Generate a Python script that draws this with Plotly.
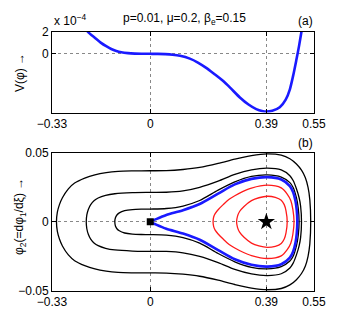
import plotly.graph_objects as go

# ---------------- data ----------------
# Panel (a): potential V(phi), values in units of 1e-4
PHI_A = [-0.225, -0.209, -0.185, -0.164, -0.148, -0.131, -0.114, -0.097, -0.075, -0.052, -0.025, 0.0,
         0.025, 0.05, 0.075, 0.10, 0.133, 0.16, 0.188, 0.215, 0.245, 0.27, 0.301, 0.33, 0.356, 0.375,
         0.39, 0.41, 0.435, 0.455, 0.469, 0.48, 0.491, 0.50, 0.508, 0.52]
V_E4 = [2.8, 2.0, 1.45, 0.98, 0.70, 0.44, 0.26, 0.14, 0.06, 0.02, 0.005, 0.0,
        -0.005, -0.03, -0.08, -0.18, -0.44, -0.8, -1.29, -1.85, -2.5, -3.15, -4.0, -4.65, -5.07, -5.25,
        -5.3, -5.22, -4.9, -4.2, -3.25, -2.0, -0.53, 0.75, 2.05, 4.0]

# Panel (b): upper halves of the phase-plane curves (phi, phi2); curves are symmetric in phi2
OUTER_PHI = [-0.315, -0.312, -0.305, -0.295, -0.275, -0.254, -0.22, -0.186, -0.148, -0.108, -0.06,
             0.0, 0.054, 0.110, 0.166, 0.228, 0.284, 0.340, 0.393, 0.440, 0.469, 0.491, 0.508,
             0.521, 0.530, 0.536, 0.539]
OUTER_PHI2 = [0, 0.0070, 0.0125, 0.0175, 0.0240, 0.0282, 0.0318, 0.0342, 0.0358, 0.0367, 0.0370,
              0.0371, 0.0372, 0.0380, 0.0395, 0.0424, 0.0455, 0.0481, 0.0493, 0.0484, 0.0458, 0.0420, 0.0375,
              0.0320, 0.0250, 0.0160, 0]
MID_PHI = [-0.215, -0.213, -0.208, -0.200, -0.188, -0.175, -0.150, -0.119, -0.06, 0.0, 0.054, 0.110,
           0.166, 0.228, 0.284, 0.340, 0.393, 0.440, 0.469, 0.480, 0.491, 0.500, 0.505, 0.508]
MID_PHI2 = [0, 0.0050, 0.0090, 0.0125, 0.0155, 0.0173, 0.0192, 0.0204, 0.0212, 0.0214, 0.0215, 0.0225,
            0.0251, 0.0296, 0.0345, 0.0378, 0.0390, 0.0377, 0.0335, 0.0300, 0.0240, 0.0175, 0.0115, 0]
INNER_PHI = [-0.119, -0.117, -0.112, -0.104, -0.086, -0.06, -0.03, 0.0, 0.054, 0.110, 0.166, 0.228,
             0.284, 0.340, 0.393, 0.440, 0.469, 0.480, 0.491, 0.497, 0.500]
INNER_PHI2 = [0, 0.0030, 0.0050, 0.0065, 0.0081, 0.0089, 0.0092, 0.0093, 0.0097, 0.0115, 0.0155, 0.0230,
              0.0290, 0.0330, 0.0341, 0.0325, 0.0285, 0.0250, 0.0175, 0.0100, 0]
SEP_PHI = [0.0, 0.02, 0.054, 0.110, 0.166, 0.228, 0.284, 0.340, 0.393, 0.440, 0.469, 0.480, 0.488, 0.492, 0.494]
SEP_PHI2 = [0, 0.0020, 0.0050, 0.0085, 0.0130, 0.0205, 0.0272, 0.0312, 0.0325, 0.0308, 0.0260, 0.0215,
            0.0150, 0.0085, 0]
RED1_PHI = [0.211, 0.213, 0.218, 0.228, 0.245, 0.265, 0.284, 0.310, 0.340, 0.393, 0.440, 0.460, 0.472, 0.479, 0.483]
RED1_PHI2 = [0, 0.0035, 0.0060, 0.0088, 0.0125, 0.0164, 0.0190, 0.0219, 0.0245, 0.0266, 0.0247, 0.0202,
             0.0155, 0.0090, 0]
RED2_PHI = [0.290, 0.293, 0.300, 0.315, 0.340, 0.365, 0.393, 0.420, 0.440, 0.450, 0.456, 0.460]
RED2_PHI2 = [0, 0.0040, 0.0075, 0.0112, 0.0154, 0.0175, 0.0186, 0.0178, 0.0157, 0.0125, 0.0080, 0]

FIXED_SADDLE = [0.0, 0.0]
FIXED_CENTER = [0.39, 0.0]

X_TICKS = [-0.33, 0.0, 0.39, 0.55]
X_TICKTEXT = ["\u22120.33", "0", "0.39", "0.55"]
YA_TICKS = [0.0, 2.0]
YA_TICKTEXT = ["0", "2"]
YB_TICKS = [-0.05, 0.0, 0.05]
YB_TICKTEXT = ["\u22120.05", "0", "0.05"]


def closed(phi, phi2):
    xs = list(phi) + list(phi[::-1])[1:]
    ys = list(phi2) + [-v for v in phi2[::-1]][1:]
    k = len(phi) // 2
    return xs[k:] + xs[1:k + 1], ys[k:] + ys[1:k + 1]


def open_loop(phi, phi2):
    xs = list(phi) + list(phi[::-1])[1:]
    ys = list(phi2) + [-v for v in phi2[::-1]][1:]
    return xs, ys


W, H = 338, 318
X0, X1 = 44, 306
BLUE = "#1a1aff"
RED = "#ff1a1a"
fig = go.Figure()

# panel (a)
fig.add_trace(go.Scatter(x=PHI_A, y=V_E4, mode="lines",
                         line=dict(color=BLUE, width=2.6, shape="spline", smoothing=0.7),
                         xaxis="x", yaxis="y", showlegend=False))

# panel (b)
for ph, p2, col in [(OUTER_PHI, OUTER_PHI2, "black"), (MID_PHI, MID_PHI2, "black"),
                    (INNER_PHI, INNER_PHI2, "black"), (RED1_PHI, RED1_PHI2, RED),
                    (RED2_PHI, RED2_PHI2, RED)]:
    xs, ys = closed(ph, p2)
    fig.add_trace(go.Scatter(x=xs, y=ys, mode="lines",
                             line=dict(color=col, width=1.3, shape="spline", smoothing=0.8),
                             xaxis="x2", yaxis="y2", showlegend=False))
xs, ys = open_loop(SEP_PHI, SEP_PHI2)
fig.add_trace(go.Scatter(x=xs, y=ys, mode="lines",
                         line=dict(color=BLUE, width=2.6, shape="spline", smoothing=0.8),
                         xaxis="x2", yaxis="y2", showlegend=False))
fig.add_trace(go.Scatter(x=[FIXED_SADDLE[0]], y=[FIXED_SADDLE[1]], mode="markers",
                         marker=dict(symbol="square", size=7, color="black"),
                         xaxis="x2", yaxis="y2", showlegend=False))
fig.add_trace(go.Scatter(x=[FIXED_CENTER[0]], y=[FIXED_CENTER[1]], mode="markers",
                         marker=dict(symbol="star", size=13, color="black"),
                         xaxis="x2", yaxis="y2", showlegend=False))

font = dict(family="Liberation Sans, Arial, sans-serif", size=12, color="black")
axcommon = dict(showline=True, linecolor="black", linewidth=1, mirror="allticks", ticks="inside",
                ticklen=4, tickcolor="black", showgrid=True, gridcolor="#888888", griddash="dot",
                gridwidth=1, zeroline=False, tickfont=font, automargin=False)

fig.update_layout(
    width=W, height=H, margin=dict(l=0, r=0, t=0, b=0, autoexpand=False),
    paper_bgcolor="white", plot_bgcolor="white", font=font,
    xaxis=dict(domain=[X0 / W, X1 / W], range=[-0.33, 0.55], tickvals=X_TICKS, ticktext=X_TICKTEXT,
               anchor="y", **axcommon),
    yaxis=dict(domain=[1 - 104.5 / H, 1 - 24 / H], range=[-5.38, 2.0], tickvals=YA_TICKS,
               ticktext=YA_TICKTEXT, anchor="x", **axcommon),
    xaxis2=dict(domain=[X0 / W, X1 / W], range=[-0.33, 0.55], tickvals=X_TICKS, ticktext=X_TICKTEXT,
                anchor="y2", **axcommon),
    yaxis2=dict(domain=[1 - 282.7 / H, 1 - 145 / H], range=[-0.05, 0.05], tickvals=YB_TICKS,
                ticktext=YB_TICKTEXT, anchor="x2", **axcommon),
)


def px(x):
    return x / W


def py(y):
    return 1 - y / H


ann = [
    dict(x=px(44), y=py(12), text="x 10<sup>\u22124</sup>", xanchor="left", yanchor="middle"),
    dict(x=px(176), y=py(11), text="p=0.01, \u03bc=0.2, \u03b2<sub>e</sub>=0.15", xanchor="center", yanchor="middle"),
    dict(x=px(297), y=py(13), text="(a)", xanchor="center", yanchor="middle"),
    dict(x=px(297), y=py(135), text="(b)", xanchor="center", yanchor="middle"),
    dict(x=px(12), y=py(65), text="V(\u03c6) \u2192", textangle=-90, xanchor="center", yanchor="middle"),
    dict(x=px(12), y=py(209), text="\u03c6<sub>2</sub>(=d\u03c6<sub>1</sub>/d\u03be) \u2192", textangle=-90,
         xanchor="center", yanchor="middle"),
    dict(x=px(176), y=py(310), text="\u03c6(=\u03c6<sub>1</sub>) \u2192", xanchor="center", yanchor="top"),
]
for a in ann:
    a.update(xref="paper", yref="paper", showarrow=False, font=font)
fig.update_layout(annotations=ann)

fig.write_html("out.html")
